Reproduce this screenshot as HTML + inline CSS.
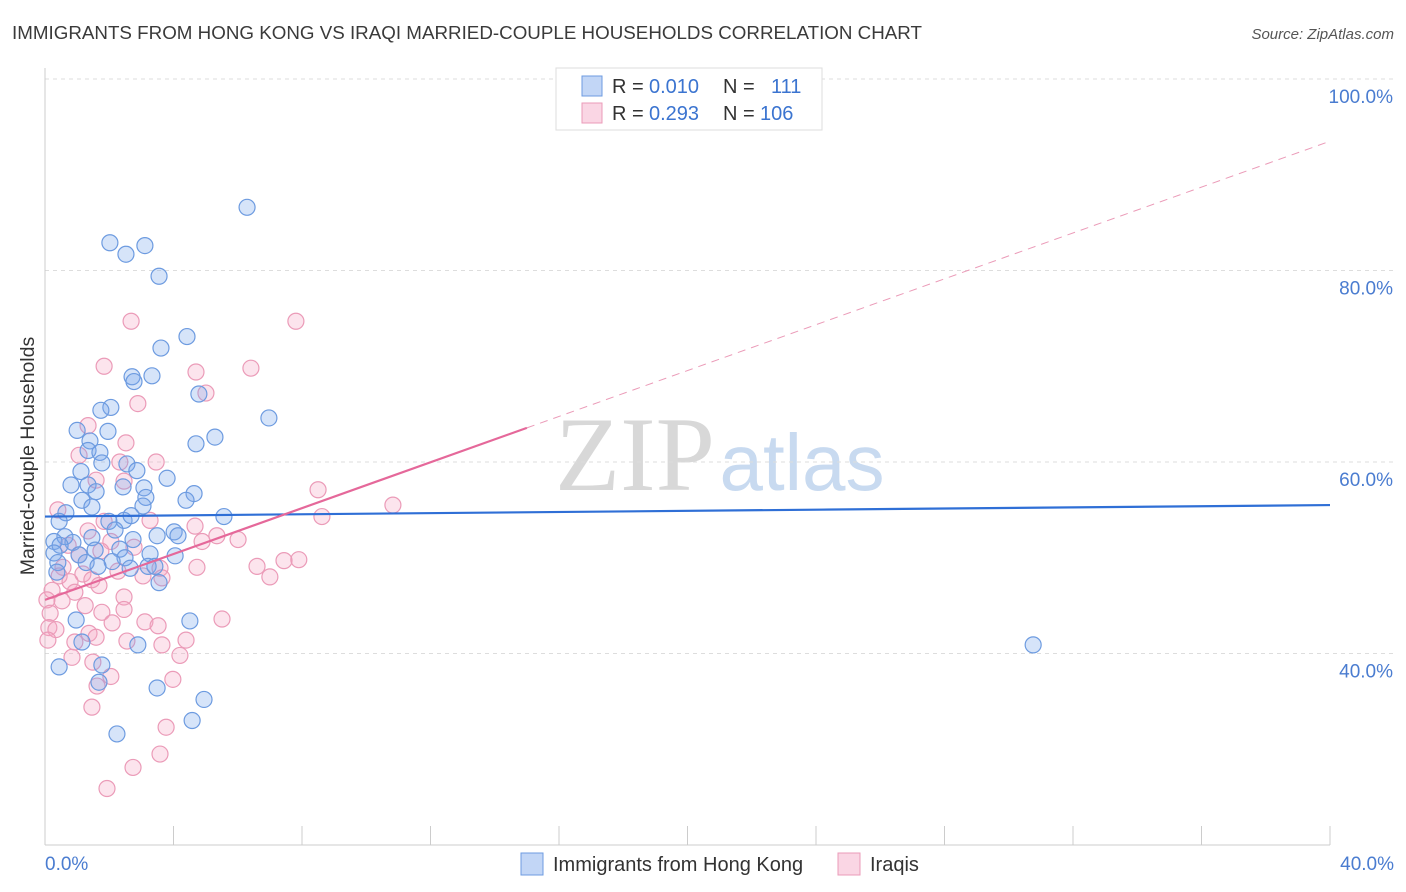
<!DOCTYPE html>
<html><head><meta charset="utf-8">
<style>
body{margin:0;background:#fff;font-family:"Liberation Sans",sans-serif;}
#wrap{position:relative;width:1406px;height:892px;overflow:hidden;}
</style></head>
<body>
<div id="wrap">
<svg id="svg" width="1406" height="892" xmlns="http://www.w3.org/2000/svg">
<text x="12" y="39" font-size="18" fill="#3a3a3a" textLength="910" lengthAdjust="spacingAndGlyphs" font-family="Liberation Sans">IMMIGRANTS FROM HONG KONG VS IRAQI MARRIED-COUPLE HOUSEHOLDS CORRELATION CHART</text>
<text x="1394" y="39" font-size="15" fill="#555" font-style="italic" text-anchor="end">Source: ZipAtlas.com</text>
<g>
<text x="635" y="490" font-size="106" fill="#d8d8d8" font-family="Liberation Serif" text-anchor="middle" textLength="160" lengthAdjust="spacingAndGlyphs">ZIP</text>
<text x="802" y="490" font-size="80" fill="#c8daf0" text-anchor="middle" textLength="165" lengthAdjust="spacingAndGlyphs">atlas</text>
</g>
<g id="grid"></g><g id="axes"></g><g id="pts"></g><g id="trend"></g>
<text transform="translate(34,456) rotate(-90)" font-size="19.5" fill="#333" text-anchor="middle">Married-couple Households</text>
<g>
<rect x="556" y="68" width="266" height="62" fill="#fff" stroke="#ddd"/>
<rect x="582" y="76" width="20" height="20" fill="rgba(120,165,235,0.45)" stroke="#6d9be0"/>
<rect x="582" y="103" width="20" height="20" fill="rgba(245,165,195,0.45)" stroke="#eb9bb8"/>
<text x="612" y="93" font-size="20" fill="#333">R = </text><text x="649" y="93" font-size="20" fill="#3b74d0">0.010</text>
<text x="723" y="93" font-size="20" fill="#333">N = </text><text x="771" y="93" font-size="20" fill="#3b74d0">111</text>
<text x="612" y="120" font-size="20" fill="#333">R = </text><text x="649" y="120" font-size="20" fill="#3b74d0">0.293</text>
<text x="723" y="120" font-size="20" fill="#333">N = </text><text x="760" y="120" font-size="20" fill="#3b74d0">106</text>
</g>
<g>
<rect x="521" y="853" width="22" height="22" fill="rgba(120,165,235,0.45)" stroke="#6d9be0"/>
<text x="553" y="871" font-size="20" fill="#333">Immigrants from Hong Kong</text>
<rect x="838" y="853" width="22" height="22" fill="rgba(245,165,195,0.45)" stroke="#eb9bb8"/>
<text x="870" y="871" font-size="20" fill="#333">Iraqis</text>
</g>
</svg>
</div>
<script>
const yTicks=[40,60,80,100];
const yTickLabels=["40.0%","60.0%","80.0%","100.0%"];
const xTickLabels=["0.0%","40.0%"];
const blueX=[6.29,2.02,3.11,2.52,3.55,4.42,3.61,2.71,3.33,2.77,4.79,2.05,1.74,6.97,1.00,1.96,5.29,1.40,4.70,1.34,1.71,1.77,2.55,2.86,1.12,3.80,0.81,1.34,2.43,3.08,1.59,4.64,3.14,4.39,1.15,1.46,3.05,0.65,2.46,5.57,0.44,1.99,2.68,2.18,3.49,4.02,4.14,0.62,1.46,2.74,0.28,0.87,0.47,2.33,1.56,0.28,1.06,3.27,2.49,4.05,0.40,1.28,2.09,1.65,3.21,2.65,3.42,0.37,3.55,0.97,4.51,1.15,2.89,30.76,1.77,0.44,1.68,3.49,4.95,4.58,2.24];
const blueY=[86.6,82.9,82.6,81.7,79.4,73.1,71.9,68.9,69.0,68.4,67.1,65.7,65.4,64.6,63.3,63.2,62.6,62.2,61.9,61.2,61.0,59.9,59.8,59.1,59.0,58.3,57.6,57.6,57.4,57.3,56.9,56.7,56.3,56.0,56.0,55.3,55.4,54.7,53.9,54.3,53.8,53.8,54.4,52.9,52.3,52.7,52.3,52.2,52.1,51.9,51.7,51.6,51.3,50.9,50.8,50.5,50.3,50.4,50.0,50.2,49.5,49.5,49.6,49.1,49.1,48.9,49.1,48.5,47.4,43.5,43.4,41.2,40.9,40.9,38.8,38.6,37.0,36.4,35.2,33.0,31.6];
const pinkX=[2.68,7.81,1.84,6.41,4.70,5.01,2.89,1.34,2.52,1.06,3.46,2.33,1.59,2.46,8.50,10.83,0.40,3.27,8.62,1.84,4.67,1.34,5.35,6.01,4.89,2.05,0.72,2.77,1.74,1.06,7.90,0.56,6.60,7.44,4.73,3.58,2.27,1.18,0.44,3.05,7.00,3.64,1.46,0.78,1.68,0.93,0.22,2.46,0.06,0.53,1.25,1.77,2.46,0.16,5.51,3.11,2.09,3.52,0.12,0.34,1.37,1.59,2.55,4.39,0.93,0.09,3.64,4.20,0.84,1.49,2.05,1.62,3.98,1.46,3.77,3.58,2.74,1.93];
const pinkY=[74.7,74.7,70.0,69.8,69.4,67.2,66.1,63.8,62.0,60.7,60.0,60.0,58.1,58.0,57.1,55.5,55.0,53.9,54.3,53.8,53.3,52.8,52.3,51.9,51.7,51.7,51.3,51.1,50.7,50.3,49.8,49.0,49.1,49.7,49.0,48.9,48.6,48.3,48.1,48.1,48.0,47.9,47.7,47.5,47.1,46.4,46.6,45.9,45.6,45.5,45.0,44.3,44.6,44.2,43.6,43.3,43.2,42.9,42.7,42.5,42.1,41.7,41.3,41.4,41.2,41.4,40.9,39.8,39.6,39.1,37.6,36.6,37.3,34.4,32.3,29.5,28.1,25.9];
const blueTrend=[54.3,55.5];
const pinkTrend=[45.6,93.5];
const pinkSolidEnd=15;

const NS="http://www.w3.org/2000/svg";
const X=v=>45+v/40*1285;
const Y=v=>845-(v-20)/20*191.5;
function mk(tag,attrs,parent){const e=document.createElementNS(NS,tag);for(const k in attrs)e.setAttribute(k,attrs[k]);document.getElementById(parent).appendChild(e);return e;}

yTicks.forEach((t,i)=>{
  const l=mk('line',{x1:45,x2:1394,y1:Y(t),y2:Y(t),stroke:'#ddd','stroke-dasharray':'4,4'},'grid');
  
  
  const tx=mk('text',{x:1393,y:Y(t)+24,'font-size':19,fill:'#4a7cd0','text-anchor':'end'},'axes');
  tx.textContent=yTickLabels[i];
  
  
});
const ax=mk('line',{x1:45,x2:1330,y1:845,y2:845,stroke:'#ccc'},'axes');


const ay=mk('line',{x1:45,x2:45,y1:68,y2:845,stroke:'#ccc'},'axes');


for(let i=0;i<=10;i++){
  const t=mk('line',{x1:X(i*4),x2:X(i*4),y1:826,y2:845,stroke:'#ccc'},'axes');
  
  
}
[[0,'start',45],[40,'end',1394]].forEach((p,i)=>{
  const tx=mk('text',{x:p[2],y:870,'font-size':19,fill:'#4a7cd0','text-anchor':p[1]},'axes');
  tx.textContent=xTickLabels[i];
  
  
});
pinkX.forEach((x,i)=>{
  const c=mk('circle',{cx:X(x),cy:Y(pinkY[i]),r:8,fill:'rgba(245,165,195,0.3)',stroke:'#eb9bb8','stroke-width':1.2},'pts');
  
  
});
blueX.forEach((x,i)=>{
  const c=mk('circle',{cx:X(x),cy:Y(blueY[i]),r:8,fill:'rgba(120,165,235,0.3)',stroke:'#6d9be0','stroke-width':1.2},'pts');
  
  
});
const bl=mk('line',{x1:X(0),y1:Y(blueTrend[0]),x2:X(40),y2:Y(blueTrend[1]),stroke:'#2f6fd6','stroke-width':2.2},'trend');


const pAt=x=>pinkTrend[0]+(pinkTrend[1]-pinkTrend[0])*x/40;
const pd=mk('line',{x1:X(pinkSolidEnd),y1:Y(pAt(pinkSolidEnd)),x2:X(40),y2:Y(pinkTrend[1]),stroke:'#eb9bb8','stroke-width':1,'stroke-dasharray':'8,6'},'trend');


const ps=mk('line',{x1:X(0),y1:Y(pinkTrend[0]),x2:X(pinkSolidEnd),y2:Y(pAt(pinkSolidEnd)),stroke:'#e5689a','stroke-width':2.2},'trend');


</script>
</body></html>
